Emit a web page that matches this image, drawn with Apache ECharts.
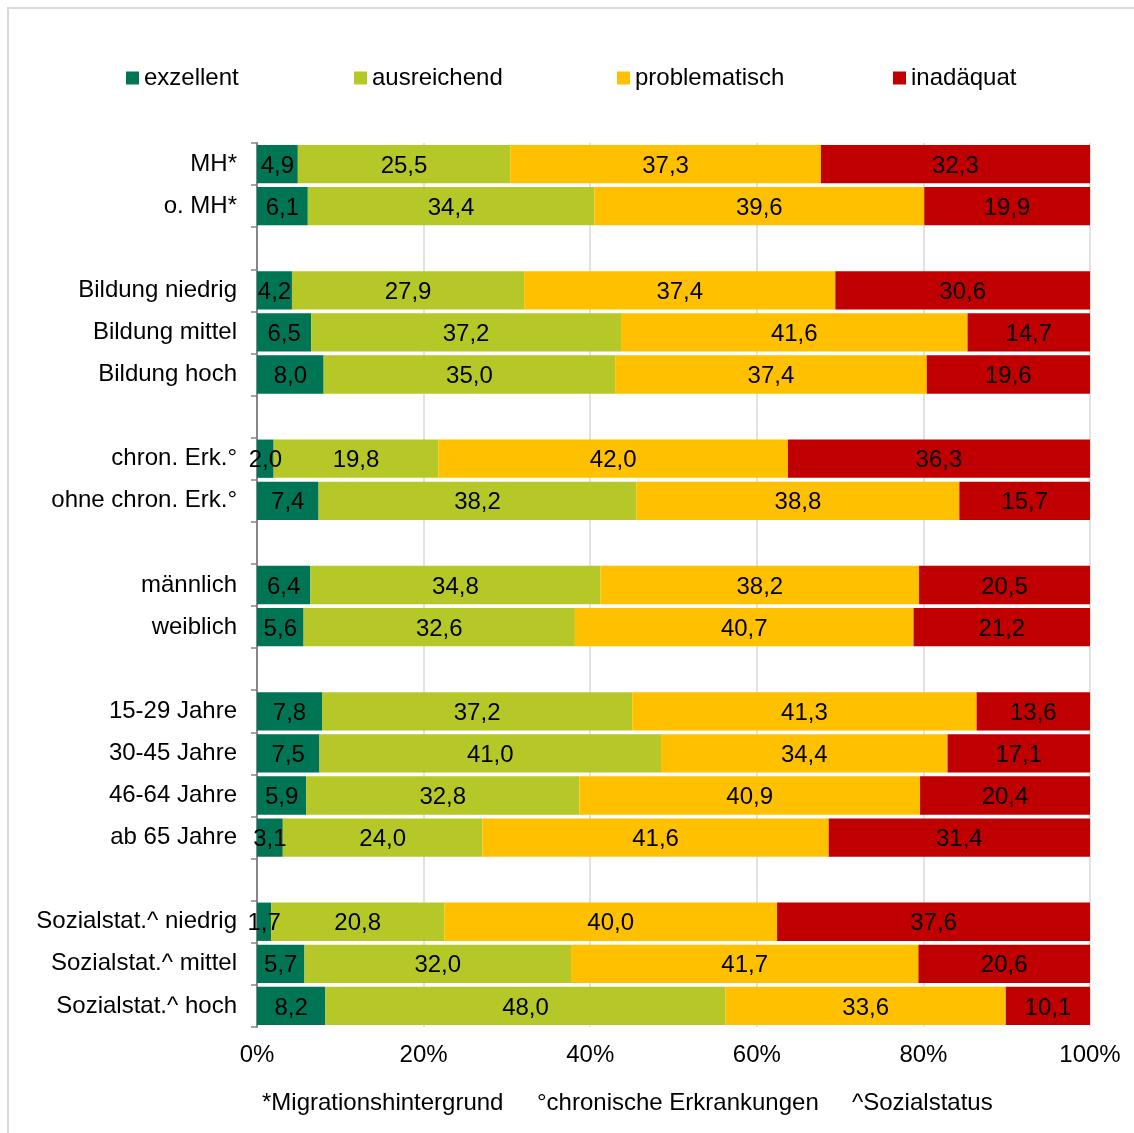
<!DOCTYPE html>
<html>
<head>
<meta charset="utf-8">
<script src="https://cdn.jsdelivr.net/npm/echarts@6/dist/echarts.min.js"></script>
<style>
html,body{margin:0;padding:0;background:#fff;}
#c{width:1134px;height:1133px;}
</style>
</head>
<body>
<div id="c"></div>
<script>
const categories = ['MH*', 'o. MH*', ' ', 'Bildung niedrig', 'Bildung mittel', 'Bildung hoch', '  ',
  'chron. Erk.°', 'ohne chron. Erk.°', '   ', 'männlich', 'weiblich', '    ',
  '15-29 Jahre', '30-45 Jahre', '46-64 Jahre', 'ab 65 Jahre', '     ',
  'Sozialstat.^ niedrig', 'Sozialstat.^ mittel', 'Sozialstat.^ hoch'];
const exzellent     = [4.9, 6.1, null, 4.2, 6.5, 8.0, null, 2.0, 7.4, null, 6.4, 5.6, null, 7.8, 7.5, 5.9, 3.1, null, 1.7, 5.7, 8.2];
const ausreichend   = [25.5, 34.4, null, 27.9, 37.2, 35.0, null, 19.8, 38.2, null, 34.8, 32.6, null, 37.2, 41.0, 32.8, 24.0, null, 20.8, 32.0, 48.0];
const problematisch = [37.3, 39.6, null, 37.4, 41.6, 37.4, null, 42.0, 38.8, null, 38.2, 40.7, null, 41.3, 34.4, 40.9, 41.6, null, 40.0, 41.7, 33.6];
const inadaequat    = [32.3, 19.9, null, 30.6, 14.7, 19.6, null, 36.3, 15.7, null, 20.5, 21.2, null, 13.6, 17.1, 20.4, 31.4, null, 37.6, 20.6, 10.1];
const seriesNames = ['exzellent', 'ausreichend', 'problematisch', 'inadäquat'];
const xTicks = [0, 20, 40, 60, 80, 100];
const footnotes = ['*Migrationshintergrund', '°chronische Erkrankungen', '^Sozialstatus'];

const raw = [exzellent, ausreichend, problematisch, inadaequat];
const colors = ['#007556', '#B5C827', '#FFC000', '#C00000'];
const sums = categories.map((c, i) => raw.reduce((s, arr) => s + (arr[i] || 0), 0));
const FONT = "'Liberation Sans', Arial, sans-serif";
const FS = 24;

const chart = echarts.init(document.getElementById('c'), null, {renderer: 'canvas'});
const legendPos = [126, 354, 617, 893];
const option = {
  animation: false,
  backgroundColor: '#fff',
  textStyle: {fontFamily: FONT},
  legend: seriesNames.map((n, k) => ({
    data: [n], left: legendPos[k], top: 66, padding: 0, icon: 'rect', itemWidth: 13, itemHeight: 13, itemGap: 0,
    textStyle: {fontSize: FS, color: '#000', fontFamily: FONT}
  })),
  grid: {left: 257, right: 44, top: 143, bottom: 106, containLabel: false},
  xAxis: {
    type: 'value', min: 0, max: 100, interval: 20,
    axisLine: {show: false}, axisTick: {show: false},
    splitLine: {lineStyle: {color: '#d9d9d9', width: 1.5}},
    axisLabel: {formatter: v => xTicks.includes(v) ? v + '%' : '', fontSize: FS, color: '#000', margin: 16, fontFamily: FONT}
  },
  yAxis: {
    type: 'category', data: categories, inverse: true,
    axisLine: {lineStyle: {color: '#868686', width: 2}},
    axisTick: {show: true, length: 6, lineStyle: {color: '#868686', width: 1.5}},
    axisLabel: {fontSize: FS, color: '#000', margin: 20, fontFamily: FONT, padding: [4, 0, 0, 0]}
  },
  series: raw.map((arr, k) => ({
    name: seriesNames[k], type: 'bar', stack: 'total', barCategoryGap: '9%',
    itemStyle: {color: colors[k]},
    data: arr.map((v, i) => v == null ? null : v / sums[i] * 100),
    label: {
      show: true, position: 'inside', color: '#000', fontSize: FS, fontFamily: FONT, offset: [0, 2],
      formatter: p => raw[k][p.dataIndex] == null ? '' : raw[k][p.dataIndex].toFixed(1).replace('.', ',')
    }
  })),
  graphic: [
    {type: 'rect', shape: {x: 8, y: 8, width: 1200, height: 1200}, style: {fill: 'none', stroke: '#d9d9d9', lineWidth: 2}, silent: true},
    {type: 'text', left: 262, top: 1091, style: {text: footnotes[0], font: FS + "px 'Liberation Sans', Arial, sans-serif", fill: '#000'}},
    {type: 'text', left: 537, top: 1091, style: {text: footnotes[1], font: FS + "px 'Liberation Sans', Arial, sans-serif", fill: '#000'}},
    {type: 'text', left: 852, top: 1091, style: {text: footnotes[2], font: FS + "px 'Liberation Sans', Arial, sans-serif", fill: '#000'}}
  ]
};
chart.setOption(option);
</script>
</body>
</html>
